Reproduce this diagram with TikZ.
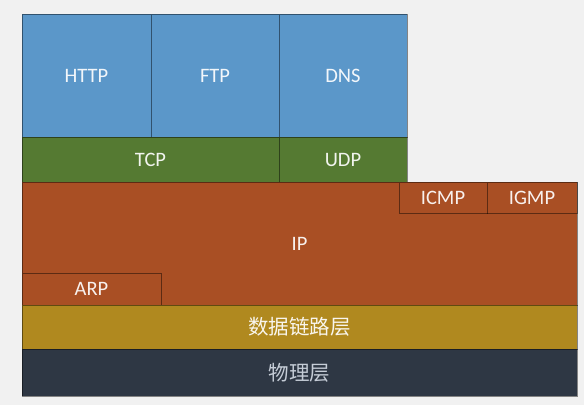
\documentclass[tikz,border=0pt]{standalone}
\usepackage{fontspec}
\setmainfont{Carlito}
\newfontfamily\cjk{Noto Sans CJK SC}
\usepackage{xcolor}
\usepackage{tikz}
\usetikzlibrary{positioning}
\definecolor{pagebg}{HTML}{F1F1F1}
\definecolor{appblue}{HTML}{5B97C9}
\definecolor{transgreen}{HTML}{557A32}
\definecolor{netred}{HTML}{A94F24}
\definecolor{linkgold}{HTML}{B0891F}
\definecolor{physlate}{HTML}{2E3744}
\definecolor{phytext}{HTML}{D3DAE4}

\begin{document}
\begin{tikzpicture}[x=1pt, y=-1pt,
    layer/.style={draw=black, draw opacity=0.45, line width=0.8pt,
      text=white, text opacity=0.92, font=\fontsize{20.5}{22}\selectfont,
      inner sep=0pt, outer sep=0pt, anchor=north west}]
      \def\L{22}
      \def\W{555}

      % background
      \useasboundingbox (0,0) rectangle (584,405);
      \fill[pagebg] (0,0) rectangle (584,405);

      % application layer
      \node[layer, fill=appblue, minimum width=129pt, minimum height=123pt] (http) at (\L,14) {HTTP};
      \node[layer, fill=appblue, minimum width=128pt, minimum height=123pt] (ftp) at (151,14) {FTP};
      \node[layer, fill=appblue, minimum width=128pt, minimum height=123pt] (dns) at (279,14) {DNS};

      % transport layer
      \node[layer, fill=transgreen, minimum width=257pt, minimum height=45pt] (tcp) at (\L,137) {TCP};
      \node[layer, fill=transgreen, minimum width=128pt, minimum height=45pt] (udp) at (279,137) {UDP};

      % network layer
      \node[layer, fill=netred, minimum width=\W pt, minimum height=123pt] (ip) at (\L,182) {IP};
      \node[layer, fill=netred, minimum width=88pt, minimum height=31pt] (icmp) at (399,182) {ICMP};
      \node[layer, fill=netred, minimum width=90pt, minimum height=31pt] (igmp) at (487,182) {IGMP};
      \node[layer, fill=netred, minimum width=139pt, minimum height=32pt] (arp) at (\L,273) {ARP};

      % link + physical
      \node[layer, fill=linkgold, minimum width=\W pt, minimum height=44pt] (link) at (\L,305) {\cjk 数据链路层};
      \node[layer, fill=physlate, minimum width=\W pt, minimum height=47pt, text=phytext] (phy) at (\L,349) {\cjk 物理层};
\end{tikzpicture}
\end{document}
